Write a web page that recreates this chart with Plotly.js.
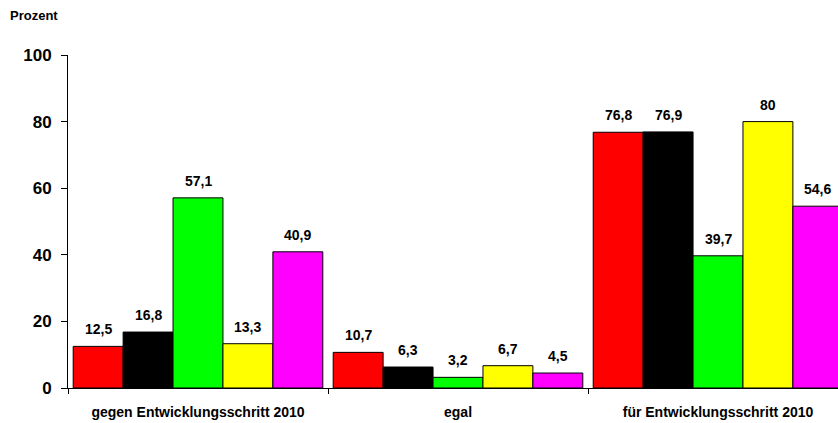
<!DOCTYPE html>
<html><head><meta charset="utf-8">
<script src="https://cdn.plot.ly/plotly-3.0.1.min.js"></script>
<style>body{margin:0;background:#fff}#c{width:838px;height:423px}</style>
</head><body><div id="c"></div>
<script>
const categories = ["gegen Entwicklungsschritt 2010", "egal", "für Entwicklungsschritt 2010"];
const seriesNames = ["Serie 1", "Serie 2", "Serie 3", "Serie 4", "Serie 5"];
const seriesColors = ["#ff0000", "#000000", "#00ff00", "#ffff00", "#ff00ff"];
const s1 = [12.5, 10.7, 76.8];
const s2 = [16.8, 6.3, 76.9];
const s3 = [57.1, 3.2, 39.7];
const s4 = [13.3, 6.7, 80];
const s5 = [40.9, 4.5, 54.6];
const yTicks = [0, 20, 40, 60, 80, 100];

const FONT = 'Liberation Sans, Arial, sans-serif';
const BARGAP = 0.04;
const allSeries = [s1, s2, s3, s4, s5];
const nS = allSeries.length;
const bw = (1 - BARGAP) / nS;

const traces = allSeries.map((vals, i) => ({
  type: 'bar',
  name: seriesNames[i],
  x: categories,
  y: vals,
  marker: {color: seriesColors[i], line: {color: '#000', width: 1}},
  hoverinfo: 'none'
}));

const labels = [];
allSeries.forEach((vals, i) => {
  vals.forEach((v, j) => {
    labels.push({
      x: j + (i - (nS - 1) / 2) * bw, y: v, xref: 'x', yref: 'y',
      text: String(v).replace('.', ','), showarrow: false,
      xanchor: 'center', yanchor: 'bottom', yshift: 7,
      font: {family: FONT, size: 14, color: '#000', weight: 'bold'}
    });
  });
});
labels.push({
  text: 'Prozent', xref: 'paper', yref: 'paper', x: -60/770, y: 1 + 40/333,
  xanchor: 'left', yanchor: 'middle', showarrow: false,
  font: {family: FONT, size: 13, weight: 'bold', color: '#000'}
});

Plotly.newPlot('c', traces, {
  width: 838, height: 423,
  margin: {l: 68, r: 0, t: 55, b: 35},
  paper_bgcolor: '#fff', plot_bgcolor: '#fff',
  showlegend: false,
  barmode: 'group', bargap: BARGAP, bargroupgap: 0,
  font: {family: FONT, color: '#000'},
  xaxis: {
    range: [-0.5, 2.4615], showline: true, linecolor: '#000', linewidth: 1,
    ticks: 'outside', tickson: 'boundaries', ticklen: 5, tickcolor: '#000',
    ticklabelstandoff: 11,
    tickfont: {size: 14, weight: 'bold'}, showgrid: false, zeroline: false, fixedrange: true
  },
  yaxis: {
    range: [0, 100], tickvals: yTicks, showline: true, linecolor: '#000', linewidth: 1,
    ticks: 'outside', ticklen: 6, tickcolor: '#000', ticklabelstandoff: 6,
    tickfont: {size: 17, weight: 'bold'}, showgrid: false, zeroline: false, fixedrange: true
  },
  annotations: labels
}, {staticPlot: true});
</script></body></html>
